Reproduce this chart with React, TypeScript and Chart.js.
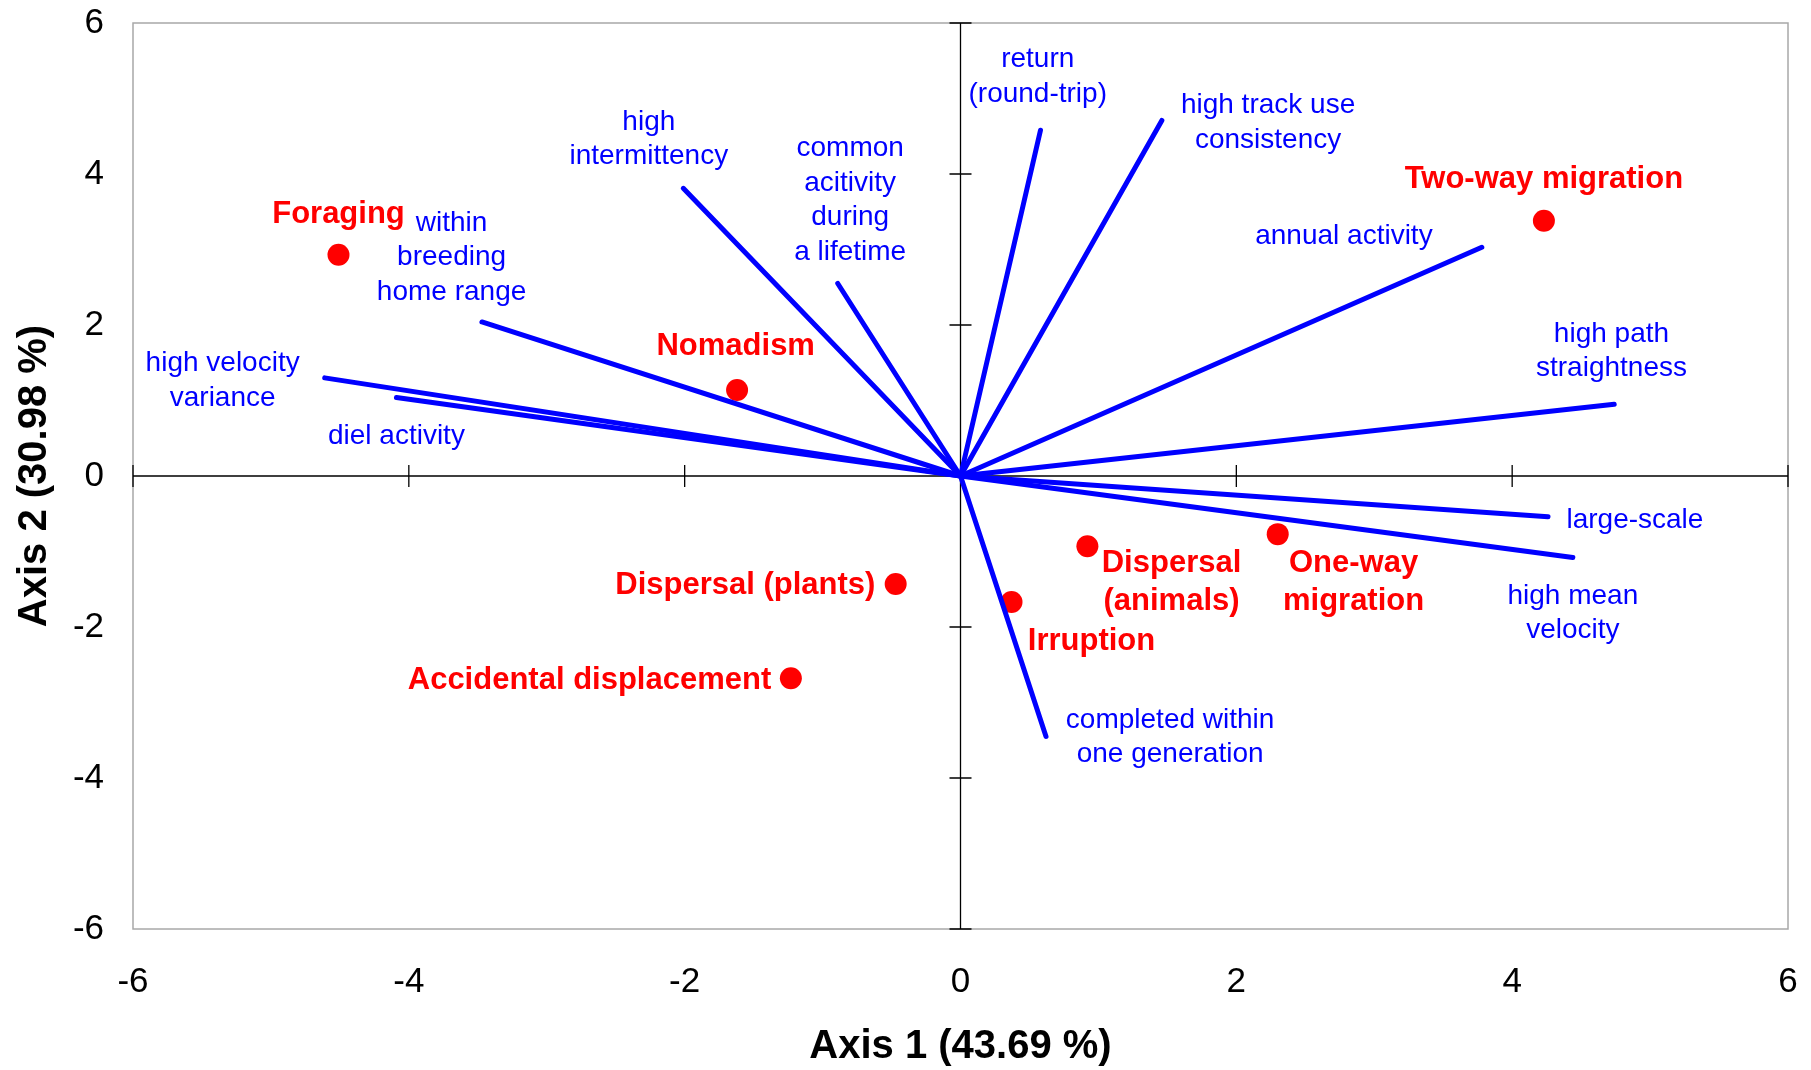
import React, { useEffect, useRef } from "react";
import { Chart, registerables } from "chart.js";

Chart.register(...registerables);

// ---- Data ----
const axisTicks = [-6, -4, -2, 0, 2, 4, 6];

const variableNames = [
  "high velocity variance",
  "diel activity",
  "within breeding home range",
  "high intermittency",
  "common acitivity during a lifetime",
  "return (round-trip)",
  "high track use consistency",
  "annual activity",
  "high path straightness",
  "large-scale",
  "high mean velocity",
  "completed within one generation",
];
const variableX = [-4.61, -4.09, -3.47, -2.01, -0.89, 0.58, 1.46, 3.78, 4.74, 4.26, 4.44, 0.62];
const variableY = [1.3, 1.04, 2.04, 3.81, 2.55, 4.58, 4.71, 3.03, 0.95, -0.54, -1.08, -3.45];

const variableLabelLines = [
  ["high velocity", "variance"],
  ["diel activity"],
  ["within", "breeding", "home range"],
  ["high", "intermittency"],
  ["common", "acitivity", "during", "a lifetime"],
  ["return", "(round-trip)"],
  ["high track use", "consistency"],
  ["annual activity"],
  ["high path", "straightness"],
  ["large-scale"],
  ["high mean", "velocity"],
  ["completed within", "one generation"],
];
const variableLabelX = [-5.35, -4.09, -3.69, -2.26, -0.8, 0.56, 2.23, 2.78, 4.72, 4.89, 4.44, 1.52];
const variableLabelY = [1.49, 0.53, 3.35, 4.69, 4.34, 5.52, 4.91, 3.18, 1.88, -0.58, -1.59, -3.23];

const groupNames = [
  "Foraging",
  "Nomadism",
  "Two-way migration",
  "Dispersal (plants)",
  "Accidental displacement",
  "Irruption",
  "Dispersal (animals)",
  "One-way migration",
];
const groupX = [-4.51, -1.62, 4.23, -0.47, -1.23, 0.37, 0.92, 2.3];
const groupY = [2.93, 1.14, 3.38, -1.43, -2.68, -1.67, -0.93, -0.77];

const groupLabelLines = [
  ["Foraging"],
  ["Nomadism"],
  ["Two-way migration"],
  ["Dispersal (plants)"],
  ["Accidental displacement"],
  ["Irruption"],
  ["Dispersal", "(animals)"],
  ["One-way", "migration"],
];
const groupLabelX = [-4.51, -1.63, 4.23, -1.56, -2.69, 0.95, 1.53, 2.85];
const groupLabelY = [3.47, 1.71, 3.93, -1.45, -2.71, -2.19, -1.16, -1.16];

const FONT = "Arial, 'Liberation Sans', Helvetica, sans-serif";
const BLUE = "#0000ff";
const RED = "#ff0000";

const decorPlugin = {
  id: "decor",
  beforeDatasetsDraw(chart: any) {
    const { ctx, chartArea: a } = chart;
    const xs = chart.scales.x;
    const ys = chart.scales.y;
    ctx.save();
    ctx.strokeStyle = "#a8a8a8";
    ctx.lineWidth = 1.5;
    ctx.strokeRect(a.left, a.top, a.right - a.left, a.bottom - a.top);
    const x0 = xs.getPixelForValue(0);
    const y0 = ys.getPixelForValue(0);
    ctx.strokeStyle = "#000";
    ctx.lineWidth = 1.3;
    ctx.beginPath();
    ctx.moveTo(a.left, y0);
    ctx.lineTo(a.right, y0);
    ctx.moveTo(x0, a.top);
    ctx.lineTo(x0, a.bottom);
    axisTicks.forEach((v) => {
      if (v === 0) return;
      const px = xs.getPixelForValue(v);
      ctx.moveTo(px, y0 - 11);
      ctx.lineTo(px, y0 + 11);
      const py = ys.getPixelForValue(v);
      ctx.moveTo(x0 - 11, py);
      ctx.lineTo(x0 + 11, py);
    });
    ctx.stroke();
    ctx.restore();
  },
  afterDatasetsDraw(chart: any) {
    const { ctx } = chart;
    const xs = chart.scales.x;
    const ys = chart.scales.y;
    ctx.save();
    ctx.textAlign = "center";
    ctx.textBaseline = "middle";
    ctx.fillStyle = BLUE;
    ctx.font = `28px ${FONT}`;
    variableLabelLines.forEach((lines, i) => {
      const px = xs.getPixelForValue(variableLabelX[i]);
      const py = ys.getPixelForValue(variableLabelY[i]);
      lines.forEach((t, j) => ctx.fillText(t, px, py + j * 34.7));
    });
    ctx.fillStyle = RED;
    ctx.font = `bold 31px ${FONT}`;
    groupLabelLines.forEach((lines, i) => {
      const px = xs.getPixelForValue(groupLabelX[i]);
      const py = ys.getPixelForValue(groupLabelY[i]);
      lines.forEach((t, j) => ctx.fillText(t, px, py + j * 38));
    });
    ctx.restore();
  },
};

const TARGET_AREA = { left: 133, top: 23, right: 1788, bottom: 929 };

function zeroOverflow(s: any) {
  s.paddingTop = 0;
  s.paddingBottom = 0;
  s.paddingLeft = 0;
  s.paddingRight = 0;
}

export default function App() {
  const canvasRef = useRef<HTMLCanvasElement | null>(null);

  useEffect(() => {
    if (!canvasRef.current) return;
    const datasets: any[] = variableNames.map((name, i) => ({
      label: name,
      data: [
        { x: 0, y: 0 },
        { x: variableX[i], y: variableY[i] },
      ],
      showLine: true,
      borderColor: BLUE,
      borderWidth: 5,
      borderCapStyle: "round",
      pointRadius: 0,
      fill: false,
    }));
    datasets.push({
      label: "groups",
      data: groupX.map((x, i) => ({ x, y: groupY[i] })),
      showLine: false,
      pointRadius: 11,
      pointHoverRadius: 11,
      backgroundColor: RED,
      borderColor: RED,
      borderWidth: 0,
    });

    const chart = new Chart(canvasRef.current, {
      type: "scatter",
      data: { datasets },
      options: {
        animation: false,
        responsive: true,
        maintainAspectRatio: false,
        layout: { padding: { top: 23, right: 23, left: 0, bottom: 0 } },
        plugins: { legend: { display: false }, tooltip: { enabled: false } },
        scales: {
          x: {
            type: "linear",
            position: "bottom",
            min: -6,
            max: 6,
            afterBuildTicks: (s: any) => {
              s.ticks = axisTicks.map((v) => ({ value: v }));
            },
            afterFit: (s: any) => {
              s.height = 141;
              zeroOverflow(s);
            },
            ticks: {
              font: { size: 35, family: FONT },
              color: "#000",
              padding: 32,
              maxRotation: 0,
            },
            grid: { display: false, drawTicks: false },
            border: { display: false },
            title: {
              display: true,
              text: "Axis 1 (43.69 %)",
              color: "#000",
              font: { size: 40, weight: "bold", family: FONT, lineHeight: 1 },
              padding: { top: 0, bottom: 3 },
            },
          },
          y: {
            type: "linear",
            position: "left",
            min: -6,
            max: 6,
            afterBuildTicks: (s: any) => {
              s.ticks = axisTicks.map((v) => ({ value: v }));
            },
            afterFit: (s: any) => {
              s.width = 133;
              zeroOverflow(s);
            },
            ticks: {
              font: { size: 35, family: FONT },
              color: "#000",
              padding: 29,
            },
            grid: { display: false, drawTicks: false },
            border: { display: false },
            title: {
              display: true,
              text: "Axis 2 (30.98 %)",
              color: "#000",
              font: { size: 40, weight: "bold", family: FONT },
              padding: { top: 11, bottom: 0 },
            },
          },
        },
      } as any,
      plugins: [decorPlugin],
    });

    // Nudge the layout padding so the plot area lands where the reference has it.
    let pad = { top: 23, right: 23, left: 0, bottom: 0 };
    for (let k = 0; k < 4; k++) {
      const a = chart.chartArea;
      if (!a) break;
      const dT = TARGET_AREA.top - a.top;
      const dR = a.right - TARGET_AREA.right;
      const dL = TARGET_AREA.left - a.left;
      const dB = a.bottom - TARGET_AREA.bottom;
      if (Math.abs(dT) < 0.5 && Math.abs(dR) < 0.5 && Math.abs(dL) < 0.5 && Math.abs(dB) < 0.5) break;
      pad = {
        top: Math.max(0, pad.top + dT),
        right: Math.max(0, pad.right + dR),
        left: Math.max(0, pad.left + dL),
        bottom: Math.max(0, pad.bottom + dB),
      };
      (chart.options as any).layout.padding = pad;
      chart.update();
    }
    return () => chart.destroy();
  }, []);

  return (
    <div style={{ position: "absolute", left: 0, top: 0, width: 1811, height: 1070, background: "#fff" }}>
      <canvas ref={canvasRef} />
    </div>
  );
}
